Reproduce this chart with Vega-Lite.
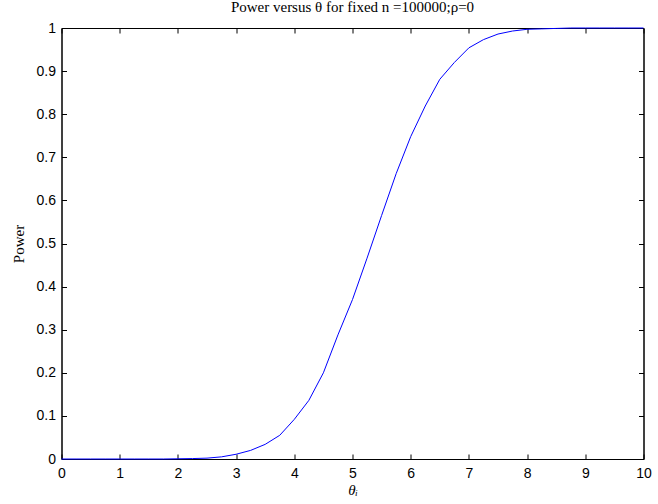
{
  "$schema": "https://vega.github.io/schema/vega-lite/v6.json",
  "width": 582,
  "height": 431,
  "autosize": "none",
  "padding": {"left": 61.5, "top": 28, "right": 14.5, "bottom": 45},
  "background": "white",
  "config": {
    "view": {"stroke": "black", "strokeWidth": 1},
    "axis": {
      "grid": false,
      "domainColor": "black",
      "domainWidth": 1,
      "tickColor": "black",
      "tickWidth": 1,
      "tickSize": -5,
      "labelColor": "black",
      "labelFont": "Liberation Sans",
      "labelFontSize": 14,
      "labelFlush": false,
      "labelOverlap": false,
      "titleColor": "black",
      "titleFont": "Liberation Serif",
      "titleFontWeight": "normal",
      "titleFontSize": 15
    }
  },
  "title": {
    "text": "Power versus θ for fixed n =100000;ρ=0",
    "font": "Liberation Serif",
    "fontSize": 15,
    "fontWeight": "normal",
    "color": "black",
    "offset": 6
  },
  "data": {
    "values": [
      {"theta": 0, "power": 0},
      {"theta": 0.25, "power": 0},
      {"theta": 0.5, "power": 0},
      {"theta": 0.75, "power": 0},
      {"theta": 1, "power": 0},
      {"theta": 1.25, "power": 0},
      {"theta": 1.5, "power": 0},
      {"theta": 1.75, "power": 0},
      {"theta": 2, "power": 0.0005},
      {"theta": 2.25, "power": 0.001},
      {"theta": 2.5, "power": 0.002},
      {"theta": 2.75, "power": 0.005},
      {"theta": 3, "power": 0.011},
      {"theta": 3.25, "power": 0.02},
      {"theta": 3.5, "power": 0.034},
      {"theta": 3.75, "power": 0.055},
      {"theta": 4, "power": 0.092},
      {"theta": 4.25, "power": 0.136},
      {"theta": 4.5, "power": 0.2},
      {"theta": 4.75, "power": 0.288},
      {"theta": 5, "power": 0.37},
      {"theta": 5.25, "power": 0.466},
      {"theta": 5.5, "power": 0.565},
      {"theta": 5.75, "power": 0.662},
      {"theta": 6, "power": 0.748},
      {"theta": 6.25, "power": 0.819},
      {"theta": 6.5, "power": 0.881},
      {"theta": 6.75, "power": 0.92},
      {"theta": 7, "power": 0.954},
      {"theta": 7.25, "power": 0.973},
      {"theta": 7.5, "power": 0.986},
      {"theta": 7.75, "power": 0.993},
      {"theta": 8, "power": 0.997},
      {"theta": 8.25, "power": 0.998},
      {"theta": 8.5, "power": 0.999},
      {"theta": 8.75, "power": 1},
      {"theta": 9, "power": 1},
      {"theta": 9.25, "power": 1},
      {"theta": 9.5, "power": 1},
      {"theta": 9.75, "power": 1},
      {"theta": 10, "power": 1}
    ]
  },
  "layer": [
    {
      "mark": {"type": "line", "color": "#0000ff", "strokeWidth": 1},
      "encoding": {
        "x": {
          "field": "theta", "type": "quantitative",
          "scale": {"domain": [0, 10], "nice": false, "zero": false},
          "axis": {"orient": "bottom", "title": "θᵢ", "titleFontStyle": "italic", "values": [0,1,2,3,4,5,6,7,8,9,10], "labelPadding": 12, "titlePadding": 2, "format": "d"}
        },
        "y": {
          "field": "power", "type": "quantitative",
          "scale": {"domain": [0, 1], "nice": false},
          "axis": {"orient": "left", "title": "Power", "values": [0,0.1,0.2,0.3,0.4,0.5,0.6,0.7,0.8,0.9,1], "labelPadding": 11, "titlePadding": 10, "format": "~g"}
        }
      }
    },
    {
      "mark": {"type": "line", "opacity": 0},
      "encoding": {
        "x": {
          "field": "theta", "type": "quantitative",
          "axis": {"orient": "top", "title": null, "labels": false, "values": [0,1,2,3,4,5,6,7,8,9,10]}
        },
        "y": {
          "field": "power", "type": "quantitative",
          "axis": {"orient": "right", "title": null, "labels": false, "values": [0,0.1,0.2,0.3,0.4,0.5,0.6,0.7,0.8,0.9,1]}
        }
      }
    }
  ],
  "resolve": {"axis": {"x": "independent", "y": "independent"}}
}
